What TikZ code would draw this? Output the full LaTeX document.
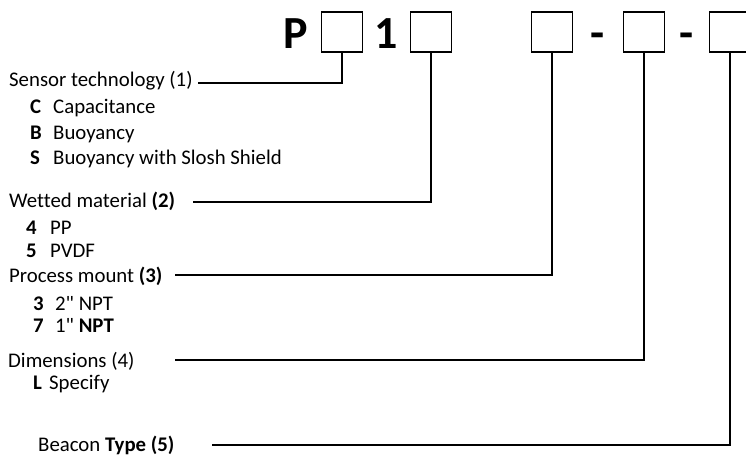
\documentclass[tikz,border=0pt]{standalone}
\usepackage{fontspec}
\setmainfont{Carlito}[Ligatures={TeX,NoCommon}]
\newfontfamily\plainf{Carlito}
\begin{document}
\begin{tikzpicture}[x=1pt,y=-1pt,
  txt/.style={inner sep=0pt,anchor=base west,font=\fontsize{20.8}{25}\selectfont},
  big/.style={inner sep=0pt,anchor=base,font=\fontsize{46}{52}\selectfont\bfseries},
  codebox/.style={draw,line width=1.6pt,minimum width=41pt,minimum height=40pt,inner sep=0pt},
  lead/.style={line width=1.6pt}]
\useasboundingbox (0,0) rectangle (746,455);
% top code
\node[big] (P) at (296,48) {P};
\node[codebox] (b1) at (342,32) {};
\node[big] (one) at (386,48) {1};
\node[codebox] (b2) at (431,32) {};
\node[codebox] (b3) at (552,32) {};
\node[big] (d1) at (598,48) {-};
\node[codebox] (b4) at (644,32) {};
\node[big] (d2) at (687,48) {-};
\node[codebox] (b5) at (730,32) {};
% headers
\node[txt] (h1) at (9,86) {Sensor technology (1)};
\node[txt] (h2) at (9,207) {Wetted material \textbf{(2)}};
\node[txt] (h3) at (9,282) {Process mount \textbf{(3)}};
\node[txt] (h4) at (8,367) {Dimensions (4)};
\node[txt] (h5) at (38,451) {Beacon \textbf{Type (5)}};
% items
\node[txt] (k1) at (30,113) {\textbf{C}};
\node[txt] (v1) at (53,113) {Capacitance};
\node[txt] (k2) at (30,139) {\textbf{B}};
\node[txt] (v2) at (53,139) {Buoyancy};
\node[txt] (k3) at (30,164) {\textbf{S}};
\node[txt] (v3) at (53,164) {Buoyancy with Slosh Shield};
\node[txt] (k4) at (26,234) {\textbf{4}};
\node[txt] (v4) at (50,234) {PP};
\node[txt] (k5) at (26,257) {\textbf{5}};
\node[txt] (v5) at (50,257) {PVDF};
\node[txt] (k6) at (33,310) {\textbf{3}};
\node[txt] (v6) at (55,310) {{\plainf 2"} NPT};
\node[txt] (k7) at (33,332) {\textbf{7}};
\node[txt] (v7) at (55,332) {{\plainf 1"} \textbf{NPT}};
\node[txt] (k8) at (33,389) {\textbf{L}};
\node[txt] (v8) at (49,389) {Specify};
% lead-in coordinates
\coordinate (s1) at (198,83);
\coordinate (s2) at (193,202);
\coordinate (s3) at (175,275);
\coordinate (s4) at (175,360);
\coordinate (s5) at (212,445);
\draw[lead] (s1) -| (b1.south);
\draw[lead] (s2) -| (b2.south);
\draw[lead] (s3) -| (b3.south);
\draw[lead] (s4) -| (b4.south);
\draw[lead] (s5) -| (b5.south);
\end{tikzpicture}
\end{document}
